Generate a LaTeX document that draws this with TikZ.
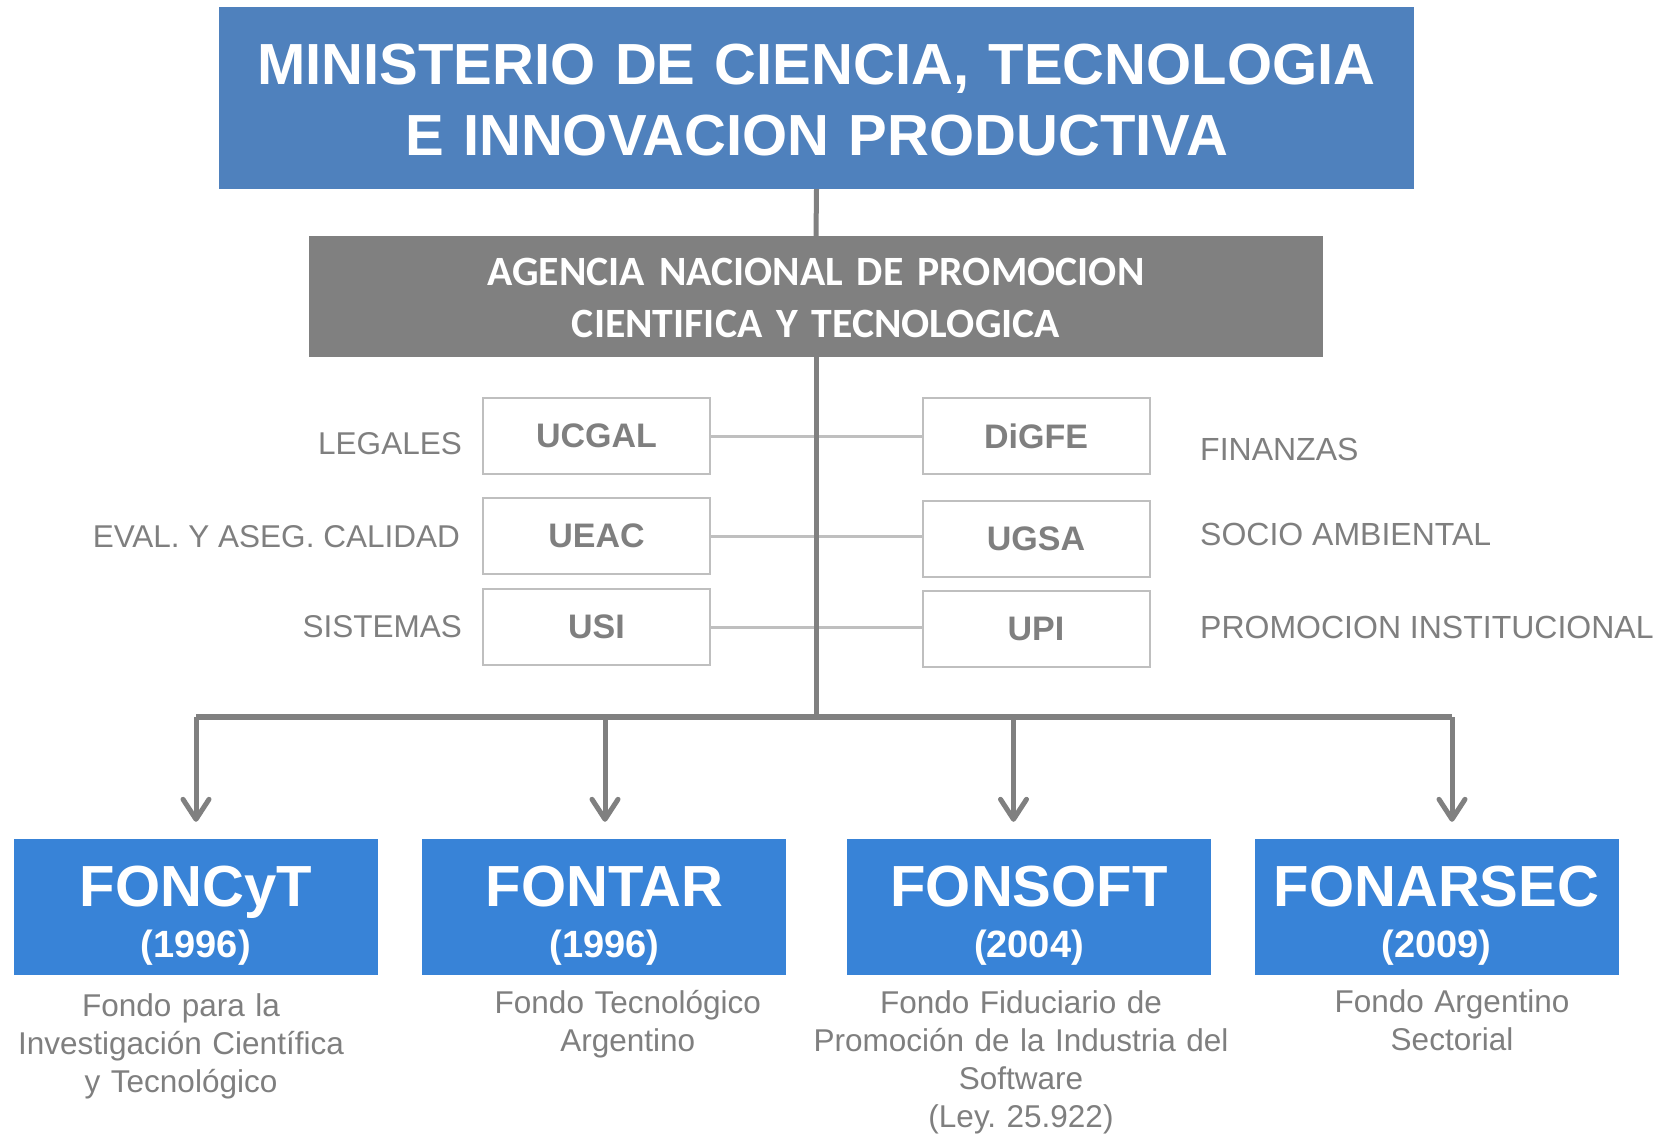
\documentclass[tikz,border=0pt]{standalone}
\usepackage{fontspec}
\setmainfont{Liberation Sans}
\newfontfamily\agencyfont{Carlito}
\usepackage{tikz}
\usetikzlibrary{arrows.meta}
\definecolor{minblue}{RGB}{79,129,189}
\definecolor{fondoblue}{RGB}{56,131,215}
\definecolor{agencygray}{RGB}{128,128,128}
\definecolor{textgray}{RGB}{127,127,127}
\definecolor{boxgray}{RGB}{191,191,191}
\frenchspacing

\begin{document}
\begin{tikzpicture}[x = 1pt, y = -1pt,
  ministerio/.style = {fill = minblue, text = white, inner sep = 0, text width = 1195pt, align = center, text height = 77pt, text depth = 105pt, font = \bfseries\fontsize{58}{71}\selectfont},
  agencia/.style = {fill = agencygray, text = white, inner sep = 0, text width = 1014pt, align = center, text height = 49pt, text depth = 72pt, font = \agencyfont\bfseries\fontsize{41.7}{52}\selectfont},
  unidad/.style = {draw = boxgray, line width = 2pt, fill = white, minimum width = 227pt, minimum height = 76pt, text = textgray, font = \bfseries\fontsize{34}{40}\selectfont},
  area/.style = {text = textgray, inner sep = 0, font = \fontsize{31.5}{38}\selectfont},
  fondo/.style = {fill = fondoblue, text = white, inner sep = 0, text width = 364pt, align = center, text height = 67pt, text depth = 69pt, font = \bfseries\fontsize{58}{51}\selectfont},
  desc/.style = {text = textgray, inner sep = 0, text width = 450pt, align = center, font = \fontsize{31.5}{38}\selectfont},
  enlace/.style = {draw = boxgray, line width = 3pt},
  tronco/.style = {draw = agencygray, line width = 5pt},
  rama/.style = {draw = agencygray, line width = 5pt, -{Straight Barb[length = 20pt, width = 26pt, round]}}]
  \useasboundingbox (0, 0) rectangle (1663, 1135);
  \fill[white] (0, 0) rectangle (1663, 1135);

  \node[ministerio] (min) at (816.5, 98) {MINISTERIO DE CIENCIA, TECNOLOGIA\\E INNOVACION PRODUCTIVA};
  \node[agencia] (anpcyt) at (816, 296.5) {AGENCIA NACIONAL DE PROMOCION\\CIENTIFICA Y TECNOLOGICA};

  \node[unidad] (ucgal) at (596.5, 436) {UCGAL};
  \node[unidad] (ueac) at (596.5, 536) {UEAC};
  \node[unidad] (usi) at (596.5, 627) {USI};
  \node[unidad] (digfe) at (1036, 436) {DiGFE};
  \node[unidad] (ugsa) at (1036, 539) {UGSA};
  \node[unidad] (upi) at (1036, 629) {UPI};

  \node[area, anchor = base east] (legales) at (462, 454) {LEGALES};
  \node[area, anchor = base east] (calidad) at (460, 547) {EVAL. Y ASEG. CALIDAD};
  \node[area, anchor = base east] (sistemas) at (462, 637) {SISTEMAS};
  \node[area, anchor = base west, font = \fontsize{32}{38}\selectfont] (finanzas) at (1200, 460) {FINANZAS};
  \node[area, anchor = base west, font = \fontsize{32}{38}\selectfont] (socio) at (1200, 545) {SOCIO AMBIENTAL};
  \node[area, anchor = base west, font = \fontsize{32}{38}\selectfont] (promocion) at (1200, 638) {PROMOCION INSTITUCIONAL};

  \draw[enlace] (ucgal.east) -- (ucgal.east -| digfe.west);
  \draw[enlace] (ueac.east) -- (ueac.east -| ugsa.west);
  \draw[enlace] (usi.east) -- (usi.east -| upi.west);

  \coordinate (bus) at (816, 717);
  \coordinate (b1) at (196, 717);
  \coordinate (b2) at (605, 717);
  \coordinate (b3) at (1013.5, 717);
  \coordinate (b4) at (1452, 717);
  \draw[tronco] (min.south) -- (anpcyt.north);
  \draw[tronco] (anpcyt.south) -- (bus);
  \draw[agencygray, line width = 6pt] (b1) -- (b4);

  \node[fondo] (foncyt) at (195.8, 907) {FONCyT\\{\fontsize{38}{38}\selectfont(1996)}};
  \node[fondo] (fontar) at (604.4, 907) {FONTAR\\{\fontsize{38}{38}\selectfont(1996)}};
  \node[fondo] (fonsoft) at (1029, 907) {FONSOFT\\{\fontsize{38}{38}\selectfont(2004)}};
  \node[fondo] (fonarsec) at (1436.5, 907) {FONARSEC\\{\fontsize{38}{38}\selectfont(2009)}};

  \draw[rama] (b1) -- ([yshift = 17pt]foncyt.north -| b1);
  \draw[rama] (b2) -- ([yshift = 17pt]fontar.north -| b2);
  \draw[rama] (b3) -- ([yshift = 17pt]fonsoft.north -| b3);
  \draw[rama] (b4) -- ([yshift = 17pt]fonarsec.north -| b4);

  \node[desc, anchor = base] (foncytdesc) at (181, 1016) {Fondo para la\\Investigación Científica\\y Tecnológico};
  \node[desc, anchor = base] (fontardesc) at (627.8, 1013) {Fondo Tecnológico\\Argentino};
  \node[desc, anchor = base] (fonsoftdesc) at (1021, 1013) {Fondo Fiduciario de\\Promoción de la Industria del\\Software\\(Ley. 25.922)};
  \node[desc, anchor = base] (fonarsecdesc) at (1452, 1012) {Fondo Argentino\\Sectorial};
\end{tikzpicture}
\end{document}
